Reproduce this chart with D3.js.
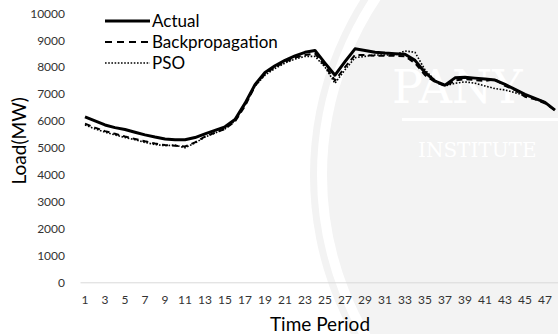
<!DOCTYPE html>
<html>
<head>
<meta charset="utf-8">
<script src="https://cdn.jsdelivr.net/npm/d3@7"></script>
<style>
  body { margin: 0; background: #fff; }
  #chart svg { display: block; font-family: Lato, "Open Sans", sans-serif; }
</style>
</head>
<body>
<div id="chart"></div>
<script>
// time periods 1..48
const periods = d3.range(1, 49);
const tickPeriods = periods.filter((p) => p % 2 === 1);
const yTicks = d3.range(0, 10001, 1000);

const actual = [
    6150, 6000, 5850, 5750, 5680, 5580, 5480, 5400, 5330, 5300, 5300, 5380,
    5520, 5650, 5780, 6050, 6650, 7350, 7800, 8050, 8250, 8420, 8550, 8620,
    8150, 7700, 8200, 8680, 8620, 8550, 8520, 8500, 8480, 8250, 7800, 7480,
    7330, 7600, 7620, 7590, 7560, 7520, 7360, 7170, 6990, 6840, 6690, 6400
];
const backprop = [
    5900, 5750, 5620, 5520, 5420, 5330, 5240, 5160, 5100, 5080, 5050, 5200,
    5420, 5560, 5700, 5980, 6550, 7300, 7750, 8000, 8200, 8350, 8450, 8500,
    8050, 7500, 8000, 8450, 8450, 8420, 8420, 8420, 8400, 8150, 7700, 7450,
    7300, 7500, 7550, 7520, 7480, 7550, 7300, 7150, 6900, 6800, 6650, 6400
];
const pso = [
    5850, 5700, 5580, 5480, 5380, 5300, 5200, 5120, 5080, 5100, 5000, 5180,
    5400, 5550, 5700, 6000, 6600, 7300, 7700, 7950, 8150, 8300, 8400, 8400,
    8000, 7400, 7900, 8350, 8400, 8450, 8450, 8450, 8600, 8550, 7900, 7500,
    7300, 7400, 7450, 7400, 7300, 7200, 7150, 7050, 6950, 6850, 6700, 6400
];

const seriesNames = ["Actual", "Backpropagation", "PSO"];
const seriesValues = [actual, backprop, pso];

const w = 558;
const h = 334;
const plotLeft = 80;
const plotBottom = 282.3;
const plotTop = 13.3;

const styles = [
    { width: 3, dash: null },
    { width: 2, dash: "6,4" },
    { width: 1.6, dash: "1.6,1.6" }
];

const svg = d3
    .select("#chart")
    .append("svg")
    .attr("width", w)
    .attr("height", h);

// faint watermark in the background
const wm = svg.append("g").attr("id", "watermark");
wm.append("circle")
    .attr("cx", 640)
    .attr("cy", 175)
    .attr("r", 330)
    .attr("fill", "#f3f3f3");
wm.append("circle")
    .attr("cx", 640)
    .attr("cy", 175)
    .attr("r", 318)
    .attr("fill", "none")
    .attr("stroke", "#fff")
    .attr("stroke-width", 10);
wm.append("text")
    .attr("x", 392)
    .attr("y", 103)
    .attr("fill", "#fff")
    .attr("font-family", "'DejaVu Serif', serif")
    .attr("font-size", 46)
    .text("PANY");
wm.append("rect")
    .attr("x", 402)
    .attr("y", 118)
    .attr("width", 156)
    .attr("height", 3)
    .attr("fill", "#fff");
wm.append("text")
    .attr("x", 418)
    .attr("y", 157)
    .attr("fill", "#fff")
    .attr("font-family", "'DejaVu Serif', serif")
    .attr("font-size", 20)
    .text("INSTITUTE");

const xScale = d3.scaleBand().domain(periods).range([plotLeft, plotLeft + 480]);
const yScale = d3.scaleLinear().domain([0, 10000]).range([plotBottom, plotTop]);
const xPos = (p) => xScale(p) + xScale.bandwidth() / 2;

const xAxis = d3
    .axisBottom(xScale)
    .tickValues(tickPeriods)
    .tickSize(0)
    .tickPadding(13);

const yAxis = d3
    .axisLeft(yScale)
    .tickValues(yTicks)
    .tickFormat(d3.format("d"))
    .tickSize(0)
    .tickPadding(15);

const gx = svg
    .append("g")
    .attr("id", "x-axis")
    .attr("transform", `translate(0,${plotBottom})`)
    .call(xAxis);
gx.select(".domain").attr("stroke", "#d9d9d9").attr("stroke-width", 1);

const gy = svg
    .append("g")
    .attr("id", "y-axis")
    .attr("transform", `translate(${plotLeft},0)`)
    .call(yAxis);
gy.select(".domain").remove();

svg.selectAll(".tick text")
    .attr("font-family", "Lato, sans-serif")
    .attr("font-size", 12)
    .attr("fill", "#333");

const line = d3
    .line()
    .x((d, i) => xPos(periods[i]))
    .y((d) => yScale(d));

svg.selectAll("path.series")
    .data(seriesValues)
    .enter()
    .append("path")
    .attr("class", "series")
    .attr("d", (d) => line(d))
    .attr("fill", "none")
    .attr("stroke", "#000")
    .attr("stroke-width", (d, i) => styles[i].width)
    .attr("stroke-dasharray", (d, i) => styles[i].dash)
    .attr("stroke-linejoin", "round");

// legend
const legend = svg
    .append("g")
    .attr("id", "legend")
    .selectAll("g")
    .data(seriesNames)
    .enter()
    .append("g")
    .attr("transform", (d, i) => `translate(105,${21 + i * 21})`);

legend
    .append("line")
    .attr("x1", 0)
    .attr("x2", 45)
    .attr("stroke", "#000")
    .attr("stroke-width", (d, i) => styles[i].width)
    .attr("stroke-dasharray", (d, i) => (i === 1 ? "7,5" : styles[i].dash));

legend
    .append("text")
    .attr("x", 47)
    .attr("dy", "0.35em")
    .attr("font-size", 17)
    .attr("fill", "#000")
    .text((d) => d);

// axis titles
svg.append("text")
    .attr("x", plotLeft + 240)
    .attr("y", 331)
    .attr("text-anchor", "middle")
    .attr("font-size", 19)
    .attr("fill", "#000")
    .text("Time Period");

svg.append("text")
    .attr("transform", `translate(26,${(plotTop + plotBottom) / 2 - 7}) rotate(-90)`)
    .attr("text-anchor", "middle")
    .attr("font-size", 19)
    .attr("fill", "#000")
    .text("Load(MW)");
</script>
</body>
</html>
